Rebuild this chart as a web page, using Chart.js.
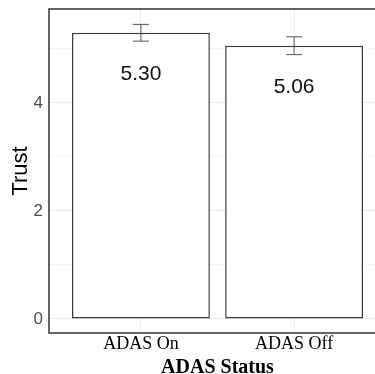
<!DOCTYPE html>
<html>
<head>
<meta charset="utf-8">
<script src="https://cdn.jsdelivr.net/npm/chart.js@4.4.0/dist/chart.umd.min.js"></script>
<style>
  html, body { margin: 0; padding: 0; background: #fff; overflow: hidden; }
  #wrap { position: relative; width: 400px; height: 374px; }
</style>
</head>
<body>
<div id="wrap"><canvas id="chart" width="400" height="374"></canvas></div>
<script>
// data
const categories = ['ADAS On', 'ADAS Off'];
const trustMeans = [5.30, 5.06];
const trustErrors = [0.155, 0.165];
const valueLabels = ['5.30', '5.06'];
const yTickValues = [0, 1, 2, 3, 4, 5];   // odd ones are minor grid lines only

const sans = "'Liberation Sans', Arial, sans-serif";
const serif = "'Liberation Serif', 'Times New Roman', serif";

// error bars, value labels and the panel frame
const extrasPlugin = {
    id: 'extras',
    afterDatasetsDraw(chart) {
        const ctx = chart.ctx;
        const xs = chart.scales.x;
        const ys = chart.scales.y;
        ctx.save();
        // error bars
        ctx.strokeStyle = '#555';
        ctx.lineWidth = 1;
        trustMeans.forEach((m, i) => {
            const x = xs.getPixelForValue(i + 1);
            const yHi = ys.getPixelForValue(m + trustErrors[i]);
            const yLo = ys.getPixelForValue(m - trustErrors[i]);
            ctx.beginPath();
            ctx.moveTo(x, yHi); ctx.lineTo(x, yLo);
            ctx.moveTo(x - 8, yHi); ctx.lineTo(x + 8, yHi);
            ctx.moveTo(x - 8, yLo); ctx.lineTo(x + 8, yLo);
            ctx.stroke();
        });
        // value labels inside bars
        ctx.fillStyle = '#111';
        ctx.font = '21px ' + sans;
        ctx.textAlign = 'center';
        ctx.textBaseline = 'middle';
        trustMeans.forEach((m, i) => {
            const x = xs.getPixelForValue(i + 1);
            const y = ys.getPixelForValue(m) + 41.5;
            ctx.fillText(valueLabels[i], x, y);
        });
        // panel border
        const a = chart.chartArea;
        ctx.strokeStyle = '#333';
        ctx.lineWidth = 1.5;
        ctx.strokeRect(a.left, a.top, a.right - a.left, a.bottom - a.top);
        ctx.restore();
    }
};

const myChart = new Chart(document.getElementById('chart').getContext('2d'), {
    type: 'bar',
    data: {
        datasets: [{
            data: trustMeans.map((v, i) => ({ x: i + 1, y: v })),
            backgroundColor: '#fff',
            borderColor: '#3a3a3a',
            borderWidth: 1.5,
            borderSkipped: false,
            categoryPercentage: 1,
            barPercentage: 0.9
        }]
    },
    options: {
        responsive: false,
        animation: false,
        layout: { padding: { top: 9, right: 14, left: 0, bottom: 0 } },
        plugins: {
            legend: { display: false },
            tooltip: { enabled: false }
        },
        scales: {
            x: {
                type: 'linear',
                min: 0.4,
                max: 2.6,
                offset: false,
                afterBuildTicks: scale => { scale.ticks = categories.map((c, i) => ({ value: i + 1 })); },
                afterFit: scale => {
                    scale.height = 41;
                    scale.paddingLeft = 0;
                    scale.paddingRight = 0;
                },
                grid: { offset: false, color: '#ebebeb', drawTicks: false },
                border: { display: false },
                ticks: {
                    padding: 0,
                    color: '#000',
                    font: { family: serif, size: 18 },
                    callback: v => categories[v - 1]
                },
                title: {
                    display: true,
                    text: 'ADAS Status',
                    color: '#000',
                    font: { family: serif, size: 20, weight: 'bold', lineHeight: 1 },
                    padding: { top: 0, bottom: -4 }
                }
            },
            y: {
                min: -0.26,
                max: 5.74,
                afterBuildTicks: scale => { scale.ticks = yTickValues.map(v => ({ value: v })); },
                afterFit: scale => {
                    scale.width = 49;
                    scale.paddingTop = 0;
                    scale.paddingBottom = 0;
                },
                grid: {
                    drawTicks: false,
                    color: c => (c.tick && c.tick.value % 2 === 0) ? '#ebebeb' : '#f5f5f5'
                },
                border: { display: false },
                ticks: {
                    padding: 6,
                    color: '#4d4d4d',
                    font: { family: sans, size: 17 },
                    callback: v => (v % 2 === 0 ? v : '')
                },
                title: {
                    display: true,
                    text: 'Trust',
                    color: '#000',
                    font: { family: sans, size: 22, lineHeight: 1.2 },
                    padding: { top: 8, bottom: 0 }
                }
            }
        }
    },
    plugins: [extrasPlugin]
});
</script>
</body>
</html>
